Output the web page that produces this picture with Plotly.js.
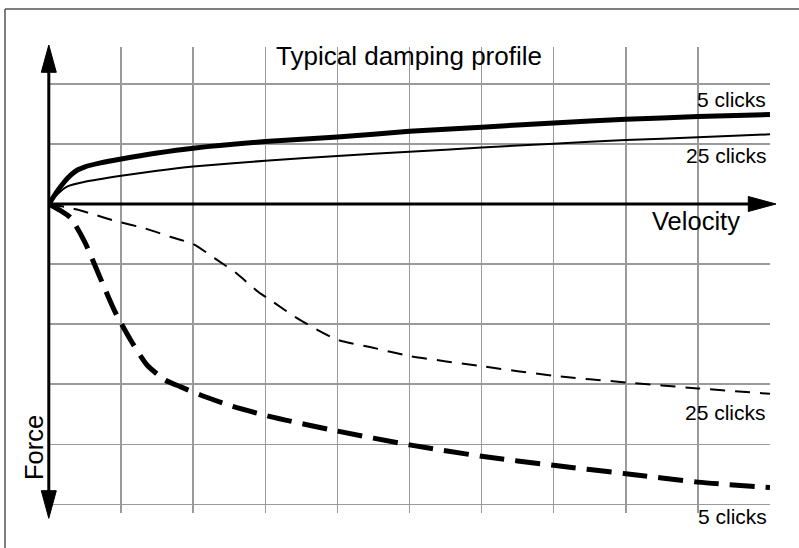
<!DOCTYPE html>
<html>
<head>
<meta charset="utf-8">
<script src="https://cdn.plot.ly/plotly-3.0.1.min.js"></script>
<style>html,body{margin:0;padding:0;background:#fff;overflow:hidden;}#chart{width:799px;height:548px;}</style>
</head>
<body>
<div id="chart"></div>
<script>
// ---- data ----
const reboundVel5 = [0, 0.1, 0.2, 0.3, 0.4, 0.5, 0.7, 1, 1.5, 2, 3, 4, 5, 6, 7, 8, 9, 10];
const reboundForce5 = [0, 0.19, 0.35, 0.48, 0.57, 0.62, 0.68, 0.75, 0.85, 0.93, 1.04, 1.115, 1.21, 1.28, 1.35, 1.41, 1.455, 1.49];

const reboundVel25 = [0, 0.06, 0.13, 0.25, 0.5, 1, 1.5, 2, 3, 4, 5, 6, 7, 8, 9, 10];
const reboundForce25 = [0, 0.09, 0.18, 0.29, 0.37, 0.47, 0.555, 0.625, 0.72, 0.80, 0.87, 0.94, 1.005, 1.065, 1.11, 1.16];

const compVel5 = [0, 0.16, 0.30, 0.495, 0.705, 0.91, 1.14, 1.36, 1.61, 1.82, 2.1, 2.55, 3.07, 4, 5, 6, 7, 8, 9, 10];
const compForce5 = [0, -0.11, -0.23, -0.63, -1.215, -1.78, -2.28, -2.68, -2.93, -3.04, -3.18, -3.37, -3.54, -3.78, -4.01, -4.2, -4.35, -4.49, -4.63, -4.72];

const compVel25 = [0, 0.39, 0.57, 0.96, 1.33, 1.68, 2.0, 2.3, 2.6, 2.9, 3.07, 3.48, 4, 4.45, 5, 6, 7, 8, 9, 10];
const compForce25 = [0, -0.09, -0.155, -0.295, -0.405, -0.545, -0.666, -0.904, -1.154, -1.46, -1.6, -1.93, -2.26, -2.38, -2.53, -2.70, -2.86, -2.97, -3.07, -3.16];

const titleText = "Typical damping profile";
const xLabel = "Velocity";
const yLabel = "Force";
const label5 = "5 clicks";
const label25 = "25 clicks";

// ---- layout helpers ----
const W = 799, H = 548, L = 49, R = 29, T = 47, B = 35;
const px2x = p => (p - L) / (W - L - R);
const py2y = p => (H - B - p) / (H - T - B);
const FONT = "Liberation Sans, Arial, Helvetica, sans-serif";

function tri(pts) {
  return 'M' + pts.map(p => px2x(p[0]) + ',' + py2y(p[1])).join(' L') + ' Z';
}

const traces = [
  {x: reboundVel5, y: reboundForce5, mode: 'lines', line: {color: '#000', width: 5, shape: 'spline', smoothing: 0.6}, hoverinfo: 'none'},
  {x: reboundVel25, y: reboundForce25, mode: 'lines', line: {color: '#000', width: 2, shape: 'spline', smoothing: 0.6}, hoverinfo: 'none'},
  {x: compVel25, y: compForce25, mode: 'lines', line: {color: '#000', width: 2, dash: '15px,10px', shape: 'spline', smoothing: 0.6}, hoverinfo: 'none'},
  {x: compVel5, y: compForce5, mode: 'lines', line: {color: '#000', width: 5, dash: '25px,11px', shape: 'spline', smoothing: 0.6}, hoverinfo: 'none'}
];

const ax0 = 48.8, ay0 = 204;
const shapes = [
  // outer frame: only the left and top edges fall inside the picture
  {type: 'line', xref: 'paper', yref: 'paper', x0: px2x(5), x1: px2x(5), y0: py2y(9), y1: py2y(548), line: {color: '#555', width: 1.5}, layer: 'below'},
  {type: 'line', xref: 'paper', yref: 'paper', x0: px2x(5), x1: px2x(799), y0: py2y(9), y1: py2y(9), line: {color: '#555', width: 1.5}, layer: 'below'},
  // y axis line
  {type: 'line', xref: 'paper', yref: 'paper', x0: px2x(ax0), x1: px2x(ax0), y0: py2y(60), y1: py2y(505), line: {color: '#000', width: 3}, layer: 'above'},
  // x axis line
  {type: 'line', xref: 'paper', yref: 'paper', x0: px2x(ax0), x1: px2x(760), y0: py2y(ay0), y1: py2y(ay0), line: {color: '#000', width: 3}, layer: 'above'},
  // arrowheads
  {type: 'path', xref: 'paper', yref: 'paper', path: tri([[ax0, 45], [ax0 - 7.5, 72.3], [ax0 + 7.5, 72.3]]), fillcolor: '#000', line: {color: '#000', width: 1}, layer: 'above'},
  {type: 'path', xref: 'paper', yref: 'paper', path: tri([[ax0, 518.3], [ax0 - 7.5, 490.7], [ax0 + 7.5, 490.7]]), fillcolor: '#000', line: {color: '#000', width: 1}, layer: 'above'},
  {type: 'path', xref: 'paper', yref: 'paper', path: tri([[776, ay0], [748.3, ay0 - 7.5], [748.3, ay0 + 7.5]]), fillcolor: '#000', line: {color: '#000', width: 1}, layer: 'above'}
];

function ann(text, xpx, ypx, xanchor, size, angle) {
  return {text: text, xref: 'paper', yref: 'paper', x: px2x(xpx), y: py2y(ypx), xanchor: xanchor, yanchor: 'middle',
          showarrow: false, textangle: angle || 0, font: {family: FONT, size: size, color: '#000'}};
}

const annotations = [
  ann(xLabel, 696, 220.5, 'center', 25.5),
  ann(yLabel, 33.5, 447.5, 'center', 25.5, -90),
  ann(label5, 768, 99.3, 'right', 21),
  ann(label25, 768.5, 155.8, 'right', 21),
  ann(label25, 768, 412.5, 'right', 21),
  ann(label5, 769.3, 516.8, 'right', 21)
];

const layout = {
  width: W, height: H,
  margin: {l: L, r: R, t: T, b: B, pad: 0},
  paper_bgcolor: '#fff', plot_bgcolor: '#fff',
  showlegend: false,
  font: {family: FONT, color: '#000'},
  title: {text: titleText, font: {family: FONT, size: 26, color: '#000'}, xref: 'paper', x: px2x(409), xanchor: 'center', yref: 'container', y: 1 - 55.6 / H, yanchor: 'middle'},
  xaxis: {range: [0, 10.0005], dtick: 1, tick0: 0, showgrid: true, gridcolor: '#9a9a9a', gridwidth: 1.5, zeroline: false, showline: false, showticklabels: false, ticks: '', fixedrange: true},
  yaxis: {range: [-5.144, 2.614], dtick: 1, tick0: 0, showgrid: true, gridcolor: '#9a9a9a', gridwidth: 1.5, zeroline: false, showline: false, showticklabels: false, ticks: '', fixedrange: true},
  shapes: shapes,
  annotations: annotations
};

Plotly.newPlot('chart', traces, layout, {staticPlot: true, displayModeBar: false});
</script>
</body>
</html>
